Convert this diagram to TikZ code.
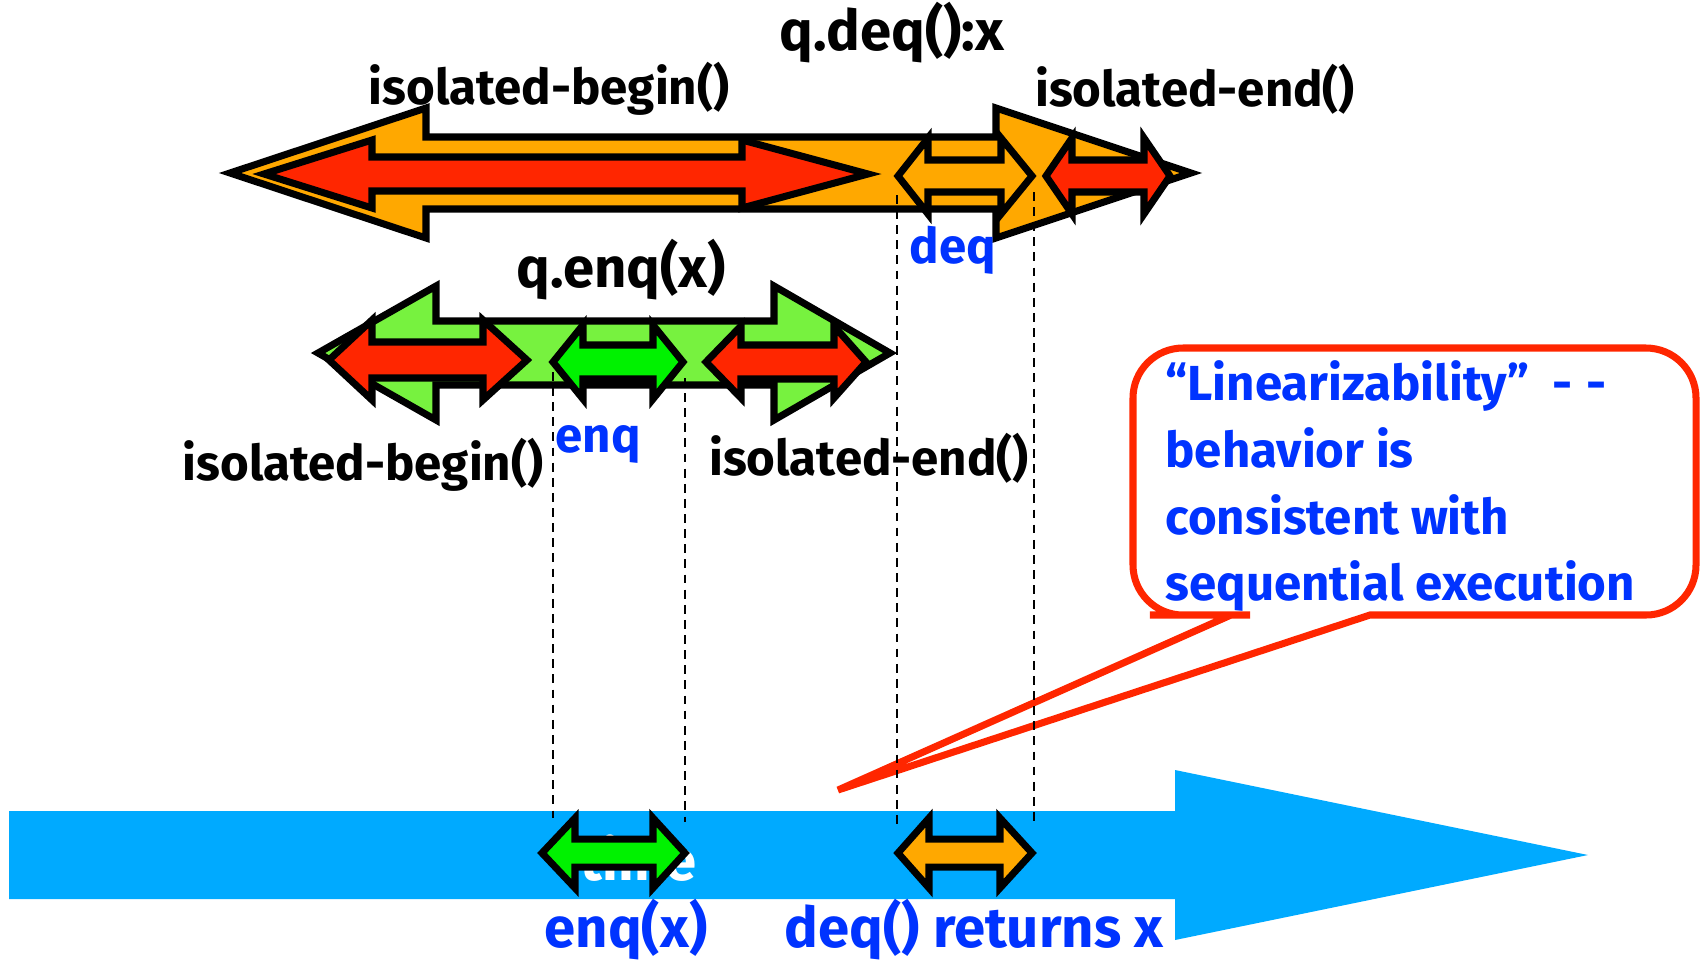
\documentclass[tikz,border=0pt]{standalone}
\usepackage{fontspec}
\setmainfont{Fira Sans}

\begin{document}
\begin{tikzpicture}[x=0.01cm, y=-0.01cm, line width=2pt,
    lbl/.style={font=\bfseries\fontsize{14}{16}\selectfont},
    oplbl/.style={font=\bfseries\fontsize{16}{18}\selectfont},
    bluelbl/.style={font=\bfseries\fontsize{14}{16}\selectfont, text=textBlue},
    guide/.style={line width=0.6pt, dash pattern=on 2.5pt off 1.8pt}]

    \definecolor{arrowOrange}{HTML}{FFA800}
    \definecolor{arrowRed}{HTML}{FF2600}
    \definecolor{arrowGreen}{HTML}{77F23F}
    \definecolor{enqGreen}{HTML}{00F200}
    \definecolor{timeBlue}{HTML}{00AAFF}
    \definecolor{textBlue}{HTML}{0033FF}

    \useasboundingbox (0,0) rectangle (1706,960);

    % double arrow: fill, left tip, right tip, mid, shaft half, head half, left head, right head
    \def\dblarrow#1#2#3#4#5#6#7#8{%
        \filldraw[fill=#1, draw=black] (#2,#4) -- ({#2+#7},{#4-#6}) -- ({#2+#7},{#4-#5})
            -- ({#3-#8},{#4-#5}) -- ({#3-#8},{#4-#6}) -- (#3,#4) -- ({#3-#8},{#4+#6})
            -- ({#3-#8},{#4+#5}) -- ({#2+#7},{#4+#5}) -- ({#2+#7},{#4+#6}) -- cycle;}

    % Time line
    \fill[timeBlue] (9,811) -- (1175,811) -- (1175,770) -- (1588,855) -- (1175,940) -- (1175,899) -- (9,899) -- cycle;
    \node[bluelbl, text=white, anchor=east, font=\bfseries\fontsize{16}{18}\selectfont] (timelbl) at (712,858) {time};

    % q.deq():x with its parts
    \dblarrow{arrowOrange}{230}{1191}{173}{36}{65}{196}{195}
    \dblarrow{arrowRed}{264}{868}{174}{17}{34}{108}{126}
    \dblarrow{arrowOrange}{898}{1032}{176}{16}{38}{30}{31}
    \dblarrow{arrowRed}{1046}{1170}{176}{16}{38}{26}{26}

    % q.enq(x) with its parts
    \dblarrow{arrowGreen}{318}{890}{353}{32}{67}{118}{116}
    \dblarrow{arrowRed}{329}{527}{360}{18}{40}{43}{44}
    \dblarrow{enqGreen}{553}{683}{362}{17}{37}{30}{30}
    \dblarrow{arrowRed}{706}{866}{362}{17}{36}{35}{32}

    % Linearization points on the time line
    \dblarrow{enqGreen}{542}{685}{853}{14}{35}{33}{32}
    \dblarrow{arrowOrange}{898}{1032}{853}{14}{35}{31}{32}

    % Labels
    \node[oplbl] (deqop) at (892,33) {q.deq():x};
    \node[lbl] (begintop) at (549,89) {isolated-begin()};
    \node[lbl] (endtop) at (1195,89) {isolated-end()};
    \node[bluelbl] (deqlbl) at (953,250) {deq};
    \node[oplbl] (enqop) at (621,270) {q.enq(x)};
    \node[lbl] (beginmid) at (363,465) {isolated-begin()};
    \node[bluelbl] (enqlbl) at (598,444) {enq};
    \node[lbl] (endmid) at (869,458) {isolated-end()};
    \node[bluelbl, font=\bfseries\fontsize{16}{18}\selectfont] (enqx) at (626,930) {enq(x)};
    \node[bluelbl, font=\bfseries\fontsize{16}{18}\selectfont] (deqx) at (974,930) {deq() returns x};

    % Callout
    \draw[arrowRed, line width=2pt] (1370,615) [rounded corners=0.5cm] -- (1696,615) -- (1696,348)
        -- (1133,348) -- (1133,615) -- (1200,615) [sharp corners] -- (1231,615) -- (838,790) -- cycle;
    \node[bluelbl, anchor=north west, align=left, inner sep=0pt,
        font=\bfseries\fontsize{14}{19}\selectfont] (note) at (1162,357)
        {“Linearizability”\ \ {-}\hspace{4pt}{-}\\behavior is\\consistent with\\sequential execution};

    % Guide lines
    \draw[guide] (553,372) -- (553,818);
    \draw[guide] (685,378) -- (685,822);
    \draw[guide] (897,195) -- (897,827);
    \draw[guide] (1034,192) -- (1034,825);

\end{tikzpicture}
\end{document}
